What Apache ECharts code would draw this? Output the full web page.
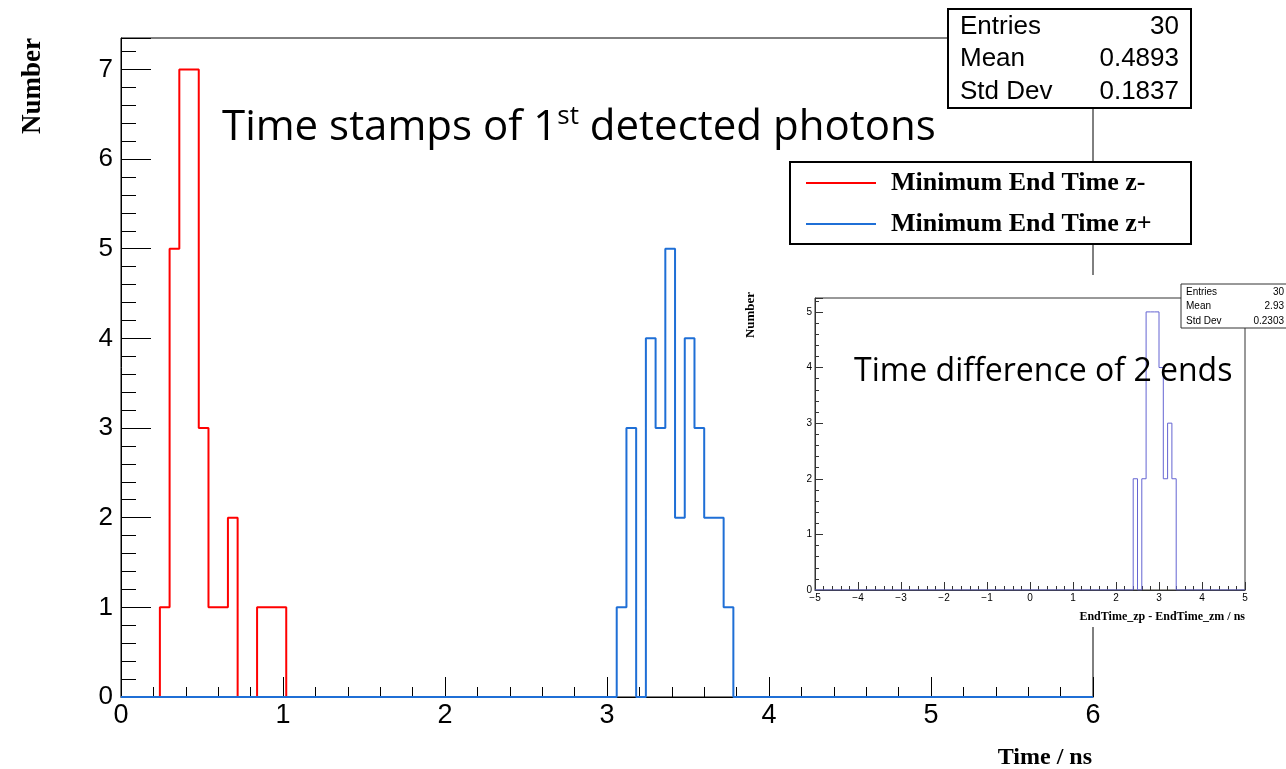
<!DOCTYPE html>
<html>
<head>
<meta charset="utf-8">
<script src="https://cdn.jsdelivr.net/npm/echarts@6/dist/echarts.min.js"></script>
<style>
  html, body { margin: 0; padding: 0; background: #fff; }
  #main { width: 1286px; height: 769px; }
</style>
</head>
<body>
<div id="main"></div>
<script>
// main histogram: 100 bins over 0..6 ns (bin width 0.06)
const mainBinWidth = 0.06;
const redStart = 0.24;
const redCounts = [1, 5, 7, 7, 3, 1, 1, 2, 0, 0, 1, 1, 1];
const blueStart = 3.06;
const blueCounts = [1, 3, 0, 4, 3, 5, 2, 4, 3, 2, 2, 1];

// inset histogram: 100 bins over -5..5 ns (bin width 0.1)
const diffBinWidth = 0.1;
const diffStart = 2.4;
const diffCounts = [2, 0, 2, 5, 5, 5, 4, 2, 3, 2];

const legendNames = ['Minimum End Time z-', 'Minimum End Time z+'];
const mainStats = [['Entries', '30'], ['Mean', '0.4893'], ['Std Dev', '0.1837']];
const insetStats = [['Entries', '30'], ['Mean', '2.93'], ['Std Dev', '0.2303']];

const SANS = 'Liberation Sans, Arial, sans-serif';
const SERIF = 'Liberation Serif, Times New Roman, serif';
const SLIDE = 'Open Sans, Noto Sans, sans-serif';

// step points for a ROOT-like histogram outline
// lo/hi: where the zero line starts and ends (null = only around the filled bins)
function histPoints(lo, hi, start, width, counts) {
  const end = +(start + counts.length * width).toFixed(4);
  const pts = [[lo == null ? start : lo, 0]];
  counts.forEach(function (c, i) {
    pts.push([+(start + i * width).toFixed(4), c]);
  });
  pts.push([end, 0]);
  pts.push([hi == null ? end : hi, 0]);
  return pts;
}

function minus(v) {
  return String(v).replace('-', '\u2212');
}

function statsBox(x, y, w, h, rows, font, rowH, pad, stroke, lw, z) {
  const els = [{
    type: 'rect', z: z,
    shape: { x: x, y: y, width: w, height: h },
    style: { fill: '#fff', stroke: stroke, lineWidth: lw }
  }];
  rows.forEach(function (r, i) {
    const cy = y + rowH * (i + 0.5) + 1;
    els.push({ type: 'text', z: z + 1, x: x + pad, y: cy,
      style: { text: r[0], font: font, fill: '#000', textAlign: 'left', textVerticalAlign: 'middle' } });
    els.push({ type: 'text', z: z + 1, x: x + w - pad, y: cy,
      style: { text: r[1], font: font, fill: '#000', textAlign: 'right', textVerticalAlign: 'middle' } });
  });
  return els;
}

const chart = echarts.init(document.getElementById('main'));

const axisBlack = { onZero: false, lineStyle: { color: '#000', width: 1 } };
const axisGrey = { onZero: false, lineStyle: { color: '#333', width: 1 } };

const option = {
  animation: false,
  backgroundColor: '#fff',
  grid: [
    { left: 121, top: 38, width: 972, height: 659, show: true, borderColor: '#000', borderWidth: 1, backgroundColor: 'transparent' },
    { left: 815, top: 298, width: 430, height: 292, show: true, borderColor: '#333', borderWidth: 1, backgroundColor: '#fff', z: 60 }
  ],
  xAxis: [
    {
      type: 'value', gridIndex: 0, min: 0, max: 6, interval: 1, position: 'bottom',
      axisLine: axisBlack,
      axisTick: { inside: true, length: 20, lineStyle: { color: '#000' } },
      minorTick: { show: true, splitNumber: 5, length: 10, lineStyle: { color: '#000' } },
      splitLine: { show: false },
      axisLabel: { fontSize: 27, color: '#000', fontFamily: SANS, margin: 5 }
    },
    {
      type: 'value', gridIndex: 1, min: -5, max: 5, interval: 1, position: 'bottom', z: 60,
      axisLine: axisGrey,
      axisTick: { inside: true, length: 8, lineStyle: { color: '#333' } },
      minorTick: { show: true, splitNumber: 5, length: 4, lineStyle: { color: '#333' } },
      splitLine: { show: false },
      axisLabel: { fontSize: 10, color: '#000', fontFamily: SANS, margin: 3, formatter: minus }
    }
  ],
  yAxis: [
    {
      type: 'value', gridIndex: 0, min: 0, max: 7.35, interval: 1, position: 'left',
      axisLine: axisBlack,
      axisTick: { inside: true, length: 30, lineStyle: { color: '#000' } },
      splitLine: { show: false },
      axisLabel: {
        fontSize: 26, color: '#000', fontFamily: SANS, margin: 8,
        formatter: function (v) { return Number.isInteger(v) ? v : ''; }
      }
    },
    {
      // minor ticks every 0.2
      type: 'value', gridIndex: 0, min: 0, max: 7.35, interval: 0.2, position: 'left',
      axisLine: { show: false, onZero: false },
      axisTick: { inside: true, length: 15, lineStyle: { color: '#000' } },
      splitLine: { show: false },
      axisLabel: { show: false }
    },
    {
      type: 'value', gridIndex: 1, min: 0, max: 5.25, interval: 1, position: 'left', z: 60,
      axisLine: axisGrey,
      axisTick: { inside: true, length: 8, lineStyle: { color: '#333' } },
      splitLine: { show: false },
      axisLabel: {
        fontSize: 10, color: '#000', fontFamily: SANS, margin: 3,
        formatter: function (v) { return Number.isInteger(v) ? v : ''; }
      }
    },
    {
      type: 'value', gridIndex: 1, min: 0, max: 5.25, interval: 0.2, position: 'left', z: 60,
      axisLine: { show: false, onZero: false },
      axisTick: { inside: true, length: 4, lineStyle: { color: '#333' } },
      splitLine: { show: false },
      axisLabel: { show: false }
    }
  ],
  legend: {
    data: legendNames,
    orient: 'vertical',
    left: 806, top: 170,
    icon: 'rect',
    itemWidth: 70, itemHeight: 2, itemGap: 15,
    padding: 0,
    z: 60,
    textStyle: { fontFamily: SERIF, fontWeight: 'bold', fontSize: 26, color: '#000', padding: [0, 0, 0, 10] }
  },
  series: [
    {
      name: legendNames[0], type: 'line', step: 'end', xAxisIndex: 0, yAxisIndex: 0,
      symbol: 'none', showSymbol: false, color: '#ff0000',
      lineStyle: { color: '#ff0000', width: 2 },
      data: histPoints(null, null, redStart, mainBinWidth, redCounts)
    },
    {
      name: legendNames[1], type: 'line', step: 'end', xAxisIndex: 0, yAxisIndex: 0,
      symbol: 'none', showSymbol: false, color: '#1f6fd6',
      lineStyle: { color: '#1f6fd6', width: 2 },
      data: histPoints(0, 6, blueStart, mainBinWidth, blueCounts)
    },
    {
      name: 'diff', type: 'line', step: 'end', xAxisIndex: 1, yAxisIndex: 2, z: 61,
      symbol: 'none', showSymbol: false, color: '#6464d2',
      lineStyle: { color: '#6464d2', width: 1 },
      data: histPoints(-5, 5, diffStart, diffBinWidth, diffCounts)
    }
  ],
  graphic: [].concat(
    // white backdrop of the pasted inset
    [{ type: 'rect', z: 40, shape: { x: 740, y: 275, width: 546, height: 352 }, style: { fill: '#fff' } }],
    // legend frame
    [{ type: 'rect', z: 50, shape: { x: 790, y: 162, width: 401, height: 82 }, style: { fill: '#fff', stroke: '#000', lineWidth: 2 } }],
    statsBox(948, 9, 243, 99, mainStats, '26px ' + SANS, 32.7, 12, '#000', 2, 50),
    statsBox(1181, 284, 108, 44, insetStats, '10px ' + SANS, 14.3, 5, '#333', 1, 80),
    [
      {
        type: 'text', z: 90, x: 222, y: 128,
        style: {
          text: '{a|Time stamps of 1}{s|st}{a| detected photons}',
          textVerticalAlign: 'middle',
          rich: {
            a: { fontFamily: SLIDE, fontSize: 42, fill: '#000', lineHeight: 48 },
            s: { fontFamily: SLIDE, fontSize: 26, fill: '#000', verticalAlign: 'top', lineHeight: 48 }
          }
        }
      },
      {
        type: 'text', z: 90, x: 854, y: 372,
        style: { text: 'Time difference of 2 ends', font: '32px ' + SLIDE, fill: '#000', textVerticalAlign: 'middle' }
      },
      {
        type: 'text', z: 90, x: 33, y: 86, rotation: Math.PI / 2,
        style: { text: 'Number', font: 'bold 27px ' + SERIF, fill: '#000', textAlign: 'center', textVerticalAlign: 'middle' }
      },
      {
        type: 'text', z: 90, x: 1092, y: 758,
        style: { text: 'Time / ns', font: 'bold 24px ' + SERIF, fill: '#000', textAlign: 'right', textVerticalAlign: 'middle' }
      },
      {
        type: 'text', z: 90, x: 751, y: 315, rotation: Math.PI / 2,
        style: { text: 'Number', font: 'bold 13px ' + SERIF, fill: '#000', textAlign: 'center', textVerticalAlign: 'middle' }
      },
      {
        type: 'text', z: 90, x: 1245, y: 617,
        style: { text: 'EndTime_zp - EndTime_zm / ns', font: 'bold 12px ' + SERIF, fill: '#000', textAlign: 'right', textVerticalAlign: 'middle' }
      }
    ]
  )
};

chart.setOption(option);
window.addEventListener('resize', function () {
  chart.resize();
});
</script>
</body>
</html>
